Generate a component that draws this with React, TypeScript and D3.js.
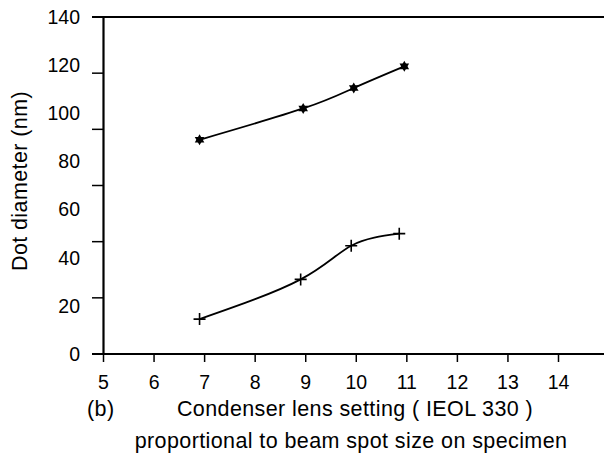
import React, { useEffect, useRef } from "react";
import * as d3 from "d3";

// condenser lens setting (x) and dot diameter in nm (y)
const starX = [6.9, 8.95, 9.95, 10.95];
const starY = [89, 102, 110.5, 119.5];
const plusX = [6.9, 8.9, 9.9, 10.85];
const plusY = [14.5, 31, 45, 50];
const xTicks = [5, 6, 7, 8, 9, 10, 11, 12, 13, 14];
const yLabels = [0, 20, 40, 60, 80, 100, 120, 140];
// tick marks in the original do not sit at the labels
const yTickMarks = [0, 140 / 6, 280 / 6, 70, 560 / 6, 700 / 6, 140];

function App() {
  const svgRef = useRef(null);
  const [width, height] = [604, 458];
  const left = 103.5, top = 17, bottom = 354;

  useEffect(() => {
    const svg = d3.select(svgRef.current);
    svg.selectAll("*").remove();
    const font = "'Liberation Sans', Arial, sans-serif";

    const x = d3.scaleLinear().domain([5, 14]).range([left, 558.5]);
    const y = d3.scaleLinear().domain([0, 140]).range([bottom, top]);

    // frame: left, top, bottom lines
    svg.append("line").attr("x1", left).attr("x2", left).attr("y1", top).attr("y2", bottom)
      .attr("stroke", "#000").attr("stroke-width", 2.2);
    svg.append("line").attr("x1", 92).attr("x2", width).attr("y1", top).attr("y2", top)
      .attr("stroke", "#000").attr("stroke-width", 2);
    svg.append("line").attr("x1", 92).attr("x2", width).attr("y1", bottom).attr("y2", bottom)
      .attr("stroke", "#000").attr("stroke-width", 2);

    // y tick marks
    svg.append("g").selectAll("line").data(yTickMarks).join("line")
      .attr("x1", 92).attr("x2", left).attr("y1", (d) => y(d)).attr("y2", (d) => y(d))
      .attr("stroke", "#000").attr("stroke-width", 1.5);

    svg.append("g").selectAll("text").data(yLabels).join("text")
      .attr("x", 80).attr("y", (d) => y(d)).attr("dy", "0.35em")
      .attr("text-anchor", "end").attr("font-family", font).attr("font-size", 19.5)
      .text((d) => d);

    // x ticks
    svg.append("g").selectAll("line").data(xTicks).join("line")
      .attr("x1", (d) => x(d)).attr("x2", (d) => x(d)).attr("y1", bottom).attr("y2", bottom + 8)
      .attr("stroke", "#000").attr("stroke-width", 1.5);

    svg.append("g").selectAll("text").data(xTicks).join("text")
      .attr("x", (d) => x(d)).attr("y", 382).attr("dy", "0.35em")
      .attr("text-anchor", "middle").attr("font-family", font).attr("font-size", 19.5)
      .text((d) => d);

    // axis titles
    const title = (sel) => sel.attr("font-family", font).attr("font-size", 21.5)
      .attr("letter-spacing", 0.4).attr("dy", "0.35em");
    svg.append("text").attr("x", 87).attr("y", 408).call(title).text("(b)");
    svg.append("text").attr("x", 355).attr("y", 408).attr("text-anchor", "middle")
      .call(title).text("Condenser lens setting ( IEOL 330 )");
    svg.append("text").attr("x", 351).attr("y", 440).attr("text-anchor", "middle")
      .call(title).text("proportional to beam spot size on specimen");
    svg.append("text").attr("transform", "translate(19,181) rotate(-90)")
      .attr("text-anchor", "middle").call(title).text("Dot diameter (nm)");

    const line = d3.line()
      .x((d) => x(d[0]))
      .y((d) => y(d[1]))
      .curve(d3.curveNatural);

    const starPts = starX.map((v, i) => [v, starY[i]]);
    const plusPts = plusX.map((v, i) => [v, plusY[i]]);

    svg.append("path").attr("d", line(starPts)).attr("fill", "none")
      .attr("stroke", "#000").attr("stroke-width", 1.8);
    svg.append("path").attr("d", line(plusPts)).attr("fill", "none")
      .attr("stroke", "#000").attr("stroke-width", 1.8);

    // six-point star markers
    svg.append("g").selectAll("g").data(starPts).join("g")
      .attr("transform", (d) => `translate(${x(d[0])},${y(d[1])})`)
      .each(function () {
        const g = d3.select(this);
        g.append("path").attr("d", "M0,-5.5L4.8,2.8L-4.8,2.8Z").attr("fill", "#000");
        g.append("path").attr("d", "M0,5.5L4.8,-2.8L-4.8,-2.8Z").attr("fill", "#000");
      });

    // plus markers
    svg.append("g").selectAll("path").data(plusPts).join("path")
      .attr("d", (d) => {
        const cx = x(d[0]), cy = y(d[1]);
        return `M${cx - 6},${cy}H${cx + 6}M${cx},${cy - 6}V${cy + 6}`;
      })
      .attr("stroke", "#000").attr("stroke-width", 1.6).attr("fill", "none");
  }, []);

  return (
    <svg
      ref={svgRef}
      width={width}
      height={height}
      style={{ position: "absolute", left: 0, top: 0, background: "#fff" }}
    ></svg>
  );
}

export default App;
